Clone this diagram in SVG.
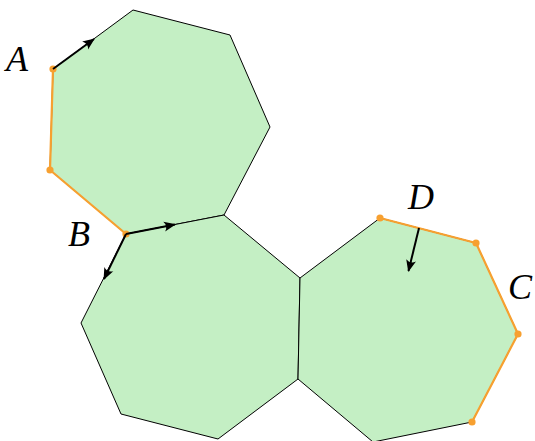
<svg xmlns="http://www.w3.org/2000/svg" width="535" height="441" viewBox="0 0 535 441">
<style>
.hep{fill:#c4efc4;stroke:#000;stroke-width:1;stroke-linejoin:round}
.or{fill:none;stroke:#f7a030;stroke-width:2.2;stroke-linejoin:round}
.dot{fill:#f7a030}
.arr{fill:none;stroke:#000;stroke-width:2;marker-end:url(#ah)}
.lbl{font-family:"Liberation Serif","DejaVu Serif",serif;font-style:italic;font-size:36px;fill:#000}
</style>
<defs>
<marker id="ah" viewBox="-12 -6 14 12" markerWidth="14" markerHeight="12" refX="0" refY="0" orient="auto" markerUnits="userSpaceOnUse">
<path d="M1,0 L-11,-5 Q-7,0 -11,5 Z" fill="#000"/>
</marker>
</defs>
<g id="heptagon1"><polygon class="hep" points="133,10 230,35 270,127 224,215 126,234 50,170 53,69"/></g>
<g id="heptagon2"><polygon class="hep" points="126,234 224,215 300,278 298,379 218,439 121,414 81,323"/></g>
<g id="heptagon3"><polygon class="hep" points="300,278 380,218 476,243 518,334 472,422 373,442 298,379"/></g>
<g id="highlights">
<polyline class="or" points="53,69 50,170 126,234"/>
<polyline class="or" points="380,218 476,243 518,334 472,422"/>
<circle class="dot" cx="53" cy="69" r="3.6"/>
<circle class="dot" cx="50" cy="170" r="3.6"/>
<circle class="dot" cx="126" cy="234" r="3.6"/>
<circle class="dot" cx="380" cy="218" r="3.6"/>
<circle class="dot" cx="476" cy="243" r="3.6"/>
<circle class="dot" cx="518" cy="334" r="3.6"/>
<circle class="dot" cx="472" cy="422" r="3.6"/>
</g>
<g id="connectors">
<line class="arr" x1="53" y1="69" x2="94" y2="39"/>
<line class="arr" x1="126" y1="234" x2="175" y2="224.5"/>
<line class="arr" x1="126" y1="234" x2="104" y2="279"/>
<line class="arr" x1="419" y1="228" x2="408.5" y2="271"/>
</g>
<g id="labels">
<text class="lbl" x="6" y="71">A</text>
<text class="lbl" x="68" y="246">B</text>
<text class="lbl" x="508" y="299">C</text>
<text class="lbl" x="408" y="209">D</text>
</g>
</svg>
